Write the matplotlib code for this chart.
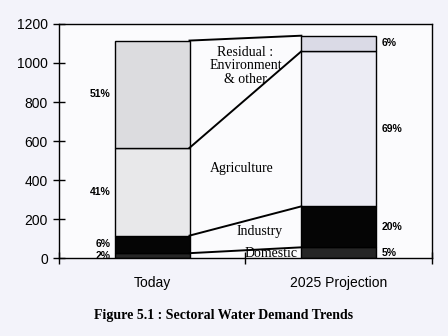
import matplotlib.pyplot as plt
import numpy as np

# data (million m3 or so)
categories = ["Today", "2025 Projection"]
sectors = ["Domestic", "Industry", "Agriculture", "Residual"]
domestic = [25, 55]
industry = [90, 210]
agriculture = [450, 795]
residual = [550, 80]
pct_today = ["2%", "6%", "41%", "51%"]
pct_2025 = ["5%", "20%", "69%", "6%"]

colors_today = ["#262626", "#050505", "#e8e8ea", "#dcdcdf"]
colors_2025 = ["#262626", "#050505", "#ececf4", "#dadae6"]

serif = ["Liberation Serif", "DejaVu Serif"]
sans = ["Liberation Sans", "DejaVu Sans"]

fig = plt.figure(figsize=(4.48, 3.36), dpi=100, facecolor="#f3f3fa")
ax = fig.add_axes([0.1317, 0.232, 0.8323, 0.6966])
ax.set_facecolor("#fbfbfd")

x = np.arange(len(categories))
w = 0.40
series = [domestic, industry, agriculture, residual]
bottoms = np.zeros(len(categories))
tops = []
for i, vals in enumerate(series):
    vals = np.array(vals, dtype=float)
    cols = [colors_today[i], colors_2025[i]]
    ax.bar(x, vals, w, bottom=bottoms, color=cols, edgecolor="black", linewidth=1.0, zorder=2)
    bottoms = bottoms + vals
    tops.append(bottoms.copy())

# connector lines between bars
for t in tops:
    ax.plot([x[0] + w / 2, x[1] - w / 2], [t[0], t[1]], color="black", lw=1.4, zorder=3)

# percentage labels
for i in range(4):
    lo0 = 0 if i == 0 else tops[i - 1][0]
    lo1 = 0 if i == 0 else tops[i - 1][1]
    y0 = (lo0 + tops[i][0]) / 2
    y1 = (lo1 + tops[i][1]) / 2
    ax.text(x[0] - w / 2 - 0.025, y0, pct_today[i], ha="right", va="center",
            fontsize=7.5, fontweight="bold", family=sans)
    ax.text(x[1] + w / 2 + 0.03, y1, pct_2025[i], ha="left", va="center",
            fontsize=7.5, fontweight="bold", family=sans)

# sector names between the bars
ax.text(0.5, 985, "Residual :\nEnvironment\n& other", ha="center", va="center",
        fontsize=10, family=serif, linespacing=1.05)
ax.text(0.48, 460, "Agriculture", ha="center", va="center", fontsize=10, family=serif)
ax.text(0.578, 135, "Industry", ha="center", va="center", fontsize=10, family=serif)
ax.text(0.637, -12, "Domestic", ha="center", va="bottom", fontsize=10, family=serif, clip_on=True)

ax.set_xlim(-0.5, 1.5)
ax.set_ylim(0, 1200)
ax.set_yticks(np.arange(0, 1201, 200))
ax.set_xticks([-0.5, 0.5, 1.5])
ax.set_xticklabels([])
ax.set_xticks(x, minor=True)
ax.set_xticklabels(categories, minor=True, fontsize=10, family=sans)
ax.tick_params(axis="x", which="minor", length=0, pad=13)
ax.tick_params(axis="x", which="major", direction="inout", length=9, width=1.0)
ax.tick_params(axis="y", direction="inout", length=9, width=1.0, labelsize=10)
for lab in ax.get_yticklabels():
    lab.set_family(sans)
for s in ax.spines.values():
    s.set_linewidth(1.0)

fig.text(0.498, 0.062, "Figure 5.1 : Sectoral Water Demand Trends", ha="center", va="center",
         fontsize=10, fontweight="bold", family=serif)

fig.savefig("out.png", dpi=100, facecolor=fig.get_facecolor())
